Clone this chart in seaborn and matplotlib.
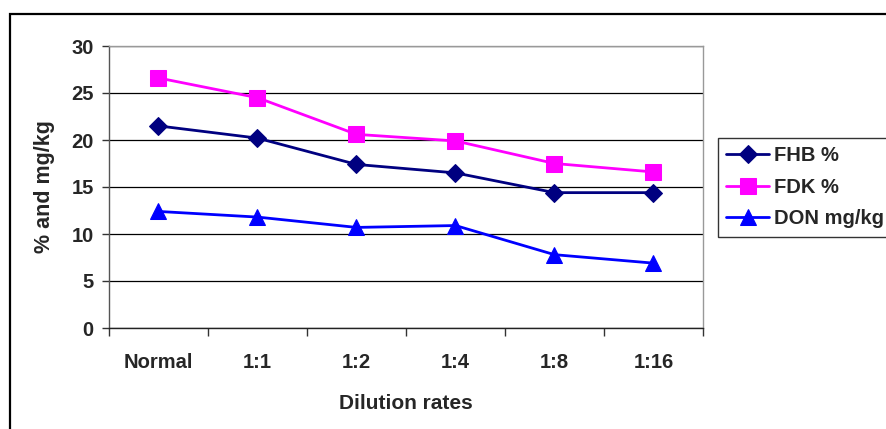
import matplotlib
matplotlib.use("Agg")
import matplotlib.pyplot as plt
from matplotlib.patches import Rectangle
from matplotlib.ticker import FixedLocator, NullFormatter
import seaborn as sns
import pandas as pd

categories = ["Normal", "1:1", "1:2", "1:4", "1:8", "1:16"]
fhb_pct = [21.5, 20.2, 17.4, 16.5, 14.4, 14.4]
fdk_pct = [26.6, 24.5, 20.6, 19.9, 17.5, 16.6]
don_mgkg = [12.4, 11.8, 10.7, 10.9, 7.8, 6.9]

series_names = ["FHB %", "FDK %", "DON mg/kg"]
series_values = [fhb_pct, fdk_pct, don_mgkg]
colors = {"FHB %": "#000080", "FDK %": "#FF00FF", "DON mg/kg": "#0000FF"}
markers = {"FHB %": "D", "FDK %": "s", "DON mg/kg": "^"}
msizes = {"FHB %": 9, "FDK %": 11, "DON mg/kg": 11}

rows = []
for name, vals in zip(series_names, series_values):
    for i, v in enumerate(vals):
        rows.append({"pos": i, "value": v, "series": name})
df = pd.DataFrame(rows)

sns.set_theme(style="white")
plt.rcParams["font.family"] = ["Liberation Sans", "DejaVu Sans"]
plt.rcParams["font.weight"] = "bold"

fig = plt.figure(figsize=(8.87, 4.29), dpi=100)
ax = fig.add_axes([109 / 887, 1 - 328 / 429, (703 - 109) / 887, (328 - 46) / 429])

# outer chart frame (left and top edges visible)
fig.patches.append(Rectangle((10 / 887, -0.1), 1.2, 1 - 14 / 429 + 0.1,
                             transform=fig.transFigure, fill=False,
                             edgecolor="black", linewidth=1.6, zorder=10))

for name in series_names:
    sub = df[df["series"] == name]
    sns.lineplot(data=sub, x="pos", y="value", ax=ax, color=colors[name],
                 marker=markers[name], markersize=msizes[name],
                 markeredgecolor=colors[name], linewidth=2.0, label=name,
                 legend=False)

ax.set_xlim(-0.5, 5.5)
ax.set_ylim(0, 30)
ax.set_yticks([0, 5, 10, 15, 20, 25, 30])
ax.yaxis.grid(True, color="black", linewidth=0.9)
ax.xaxis.grid(False)

# category labels centred between boundary ticks
ax.xaxis.set_major_locator(FixedLocator([i - 0.5 for i in range(len(categories) + 1)]))
ax.xaxis.set_major_formatter(NullFormatter())
ax.xaxis.set_minor_locator(FixedLocator(list(range(len(categories)))))
ax.set_xticklabels(categories, minor=True)
ax.tick_params(axis="x", which="major", direction="out", length=6, width=1, color="#333333",
               bottom=True)
ax.tick_params(axis="x", which="minor", length=0, pad=18, labelsize=14.5)
ax.tick_params(axis="y", direction="out", length=5, width=1, color="#333333", left=True,
               labelsize=14.5, pad=6)
for lab in ax.get_xticklabels(minor=True) + ax.get_yticklabels():
    lab.set_fontweight("bold")

ax.spines["left"].set_color("#555555")
ax.spines["bottom"].set_color("#222222")
ax.spines["top"].set_color("#999999")
ax.spines["right"].set_color("#999999")
for s in ax.spines.values():
    s.set_linewidth(1.0)

ax.set_xlabel("Dilution rates", fontsize=15, fontweight="bold", labelpad=16)
ax.set_ylabel("% and mg/kg", fontsize=15.5, fontweight="bold", labelpad=12)

handles, labels = ax.get_legend_handles_labels()
leg = fig.legend(handles, labels, loc="upper left",
                 bbox_to_anchor=(718 / 887, 1 - 138 / 429),
                 frameon=True, fancybox=False, shadow=False,
                 prop={"size": 14.5, "weight": "bold"},
                 handlelength=2.1, handletextpad=0.25, labelspacing=0.62,
                 borderpad=0.42, borderaxespad=0)
leg.get_frame().set_edgecolor("black")
leg.get_frame().set_linewidth(1.0)

fig.savefig("out.png", dpi=100)
